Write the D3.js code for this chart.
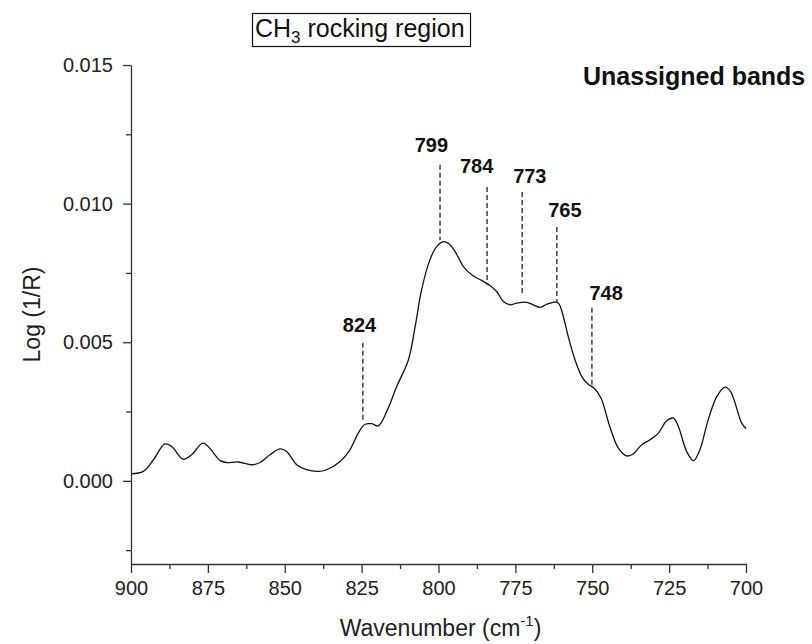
<!DOCTYPE html>
<html>
<head>
<meta charset="utf-8">
<script src="https://cdn.jsdelivr.net/npm/d3@7"></script>
<style>
  html, body { margin: 0; padding: 0; background: #fff; }
  svg { display: block; font-family: "Liberation Sans", Arial, sans-serif; }
</style>
</head>
<body>
<svg id="chart" width="812" height="644"></svg>
<script>
// ---- data ----
const wavenumbers = [900, 896, 892.7, 889, 886.8, 883, 880.3, 876.7, 874.9, 871, 868.9, 865.1, 860.7, 858, 854.8, 851.5, 849.4, 846.1, 842.9, 839.1, 836.4, 832, 828.8, 826.1, 823.9, 821.7, 819.6, 816.6, 813.6, 809.8, 807.6, 805.5, 802.8, 800.6, 798.4, 796.8, 794.6, 791.9, 789.2, 785.9, 783.2, 781.1, 778.9, 776.7, 774.6, 771.3, 769.2, 767, 764.8, 762.7, 761, 759.4, 757.8, 755.6, 753.4, 751.5, 749.4, 747.2, 744.3, 741.5, 738.8, 736.7, 733.9, 731.2, 728.5, 725.8, 723.6, 722, 719.3, 717.1, 715, 712.3, 709.5, 706.8, 705, 701.4, 700];
const absorbance = [0.00025, 0.00034, 0.00076, 0.00133, 0.00124, 0.00078, 0.00094, 0.00136, 0.00124, 0.00073, 0.00066, 0.00068, 0.00058, 0.00066, 0.00094, 0.00115, 0.00106, 0.00058, 0.0004, 0.00034, 0.0004, 0.0007, 0.00112, 0.00172, 0.00204, 0.00206, 0.00198, 0.00256, 0.0034, 0.00436, 0.00556, 0.00689, 0.00797, 0.00845, 0.00863, 0.00857, 0.00827, 0.00773, 0.00743, 0.00722, 0.00704, 0.00683, 0.00647, 0.00635, 0.00641, 0.00644, 0.00635, 0.00626, 0.00637, 0.00644, 0.00641, 0.00592, 0.0052, 0.00436, 0.00376, 0.0035, 0.00334, 0.003, 0.00196, 0.00118, 0.0009, 0.00097, 0.0013, 0.00148, 0.00172, 0.00217, 0.00226, 0.00196, 0.00106, 0.00073, 0.00112, 0.0022, 0.00304, 0.00338, 0.00322, 0.00208, 0.00188];

const xTickValues = [900, 875, 850, 825, 800, 775, 750, 725, 700];
const xMinorTickValues = [887.5, 862.5, 837.5, 812.5, 787.5, 762.5, 737.5, 712.5];
const yTickValues = [0.000, 0.005, 0.010, 0.015];
const yMinorTickValues = [-0.0025, 0.0025, 0.0075, 0.0125];

const bandLabels = ["824", "799", "784", "773", "765", "748"];
const bandLineX = [824.6, 799.5, 784.2, 772.8, 761.5, 750.1];
const bandLineTop = [0.00498, 0.0114, 0.0106, 0.01042, 0.00916, 0.00624];
const bandLineBottom = [0.00213, 0.00869, 0.00707, 0.00667, 0.00645, 0.00339];
const bandLabelX = [825.7, 802.3, 787.6, 770.3, 758.9, 745.5];
const bandLabelY = [0.00537, 0.01186, 0.01111, 0.01075, 0.00952, 0.00653];

const titleMain = "CH";
const titleSub = "3";
const titleRest = " rocking region";
const noteText = "Unassigned bands";
const yAxisTitle = "Log (1/R)";
const xAxisTitleMain = "Wavenumber (cm";
const xAxisTitleSup = "-1";
const xAxisTitleEnd = ")";

// ---- layout ----
const svg = d3.select("#chart");
const x = d3.scaleLinear().domain([900, 700]).range([131, 746]);
const y = d3.scaleLinear().domain([-0.003, 0.015]).range([564, 65]);
const axisColor = "#333";
const textColor = "#222";

// x axis
const gx = svg.append("g").attr("transform", `translate(0,${y.range()[0]})`)
  .call(d3.axisBottom(x).tickValues(xTickValues).tickSize(9).tickPadding(8).tickFormat(d3.format("d")).tickSizeOuter(0));
gx.append("g").call(d3.axisBottom(x).tickValues(xMinorTickValues).tickSize(5).tickFormat("").tickSizeOuter(0))
  .select(".domain").remove();

// y axis
const gy = svg.append("g").attr("transform", `translate(${x.range()[0]},0)`)
  .call(d3.axisLeft(y).tickValues(yTickValues).tickSize(8).tickPadding(10).tickFormat(d3.format(".3f")).tickSizeOuter(0));
gy.append("g").call(d3.axisLeft(y).tickValues(yMinorTickValues).tickSize(5).tickFormat("").tickSizeOuter(0))
  .select(".domain").remove();

svg.selectAll(".domain").attr("stroke", axisColor).attr("stroke-width", 1.3);
svg.selectAll(".tick line").attr("stroke", axisColor).attr("stroke-width", 1.3);
svg.selectAll(".tick text").attr("fill", textColor).attr("font-size", 20)
  .attr("font-family", "'Liberation Sans', Arial, sans-serif");

// axis titles
svg.append("text")
  .attr("transform", `translate(40,${(y.range()[0] + y.range()[1]) / 2}) rotate(-90)`)
  .attr("text-anchor", "middle").attr("font-size", 23).attr("fill", textColor)
  .text(yAxisTitle);

const xt = svg.append("text")
  .attr("x", (x.range()[0] + x.range()[1]) / 2 + 2).attr("y", 636)
  .attr("text-anchor", "middle").attr("font-size", 23).attr("fill", textColor);
xt.append("tspan").text(xAxisTitleMain);
xt.append("tspan").attr("font-size", 15).attr("dy", -10).text(xAxisTitleSup);
xt.append("tspan").attr("dy", 10).text(xAxisTitleEnd);

// spectrum
const pts = wavenumbers.map((w, i) => [w, absorbance[i]]);
svg.append("path")
  .datum(pts)
  .attr("fill", "none").attr("stroke", "#111").attr("stroke-width", 1.3)
  .attr("stroke-linejoin", "round")
  .attr("d", d3.line().x(d => x(d[0])).y(d => y(d[1])).curve(d3.curveCatmullRom.alpha(0.5)));

// band markers
svg.append("g").selectAll("line").data(bandLabels).join("line")
  .attr("x1", (d, i) => x(bandLineX[i])).attr("x2", (d, i) => x(bandLineX[i]))
  .attr("y1", (d, i) => y(bandLineTop[i])).attr("y2", (d, i) => y(bandLineBottom[i]))
  .attr("stroke", "#111").attr("stroke-width", 1.2).attr("stroke-dasharray", "5,3");

svg.append("g").selectAll("text").data(bandLabels).join("text")
  .attr("x", (d, i) => x(bandLabelX[i])).attr("y", (d, i) => y(bandLabelY[i]))
  .attr("text-anchor", "middle").attr("font-size", 20).attr("font-weight", "bold").attr("fill", "#111")
  .text(d => d);

// title box
svg.append("rect").attr("x", 252.5).attr("y", 13.5).attr("width", 218).attr("height", 33)
  .attr("fill", "none").attr("stroke", "#111").attr("stroke-width", 1.2);
const tt = svg.append("text").attr("x", 255).attr("y", 37).attr("font-size", 25).attr("fill", "#111");
tt.append("tspan").text(titleMain);
tt.append("tspan").attr("font-size", 17).attr("dy", 6).text(titleSub);
tt.append("tspan").attr("dy", -6).text(titleRest);

// note
svg.append("text").attr("x", 583).attr("y", 85).attr("font-size", 25).attr("font-weight", "bold")
  .attr("fill", "#111").text(noteText);
</script>
</body>
</html>
